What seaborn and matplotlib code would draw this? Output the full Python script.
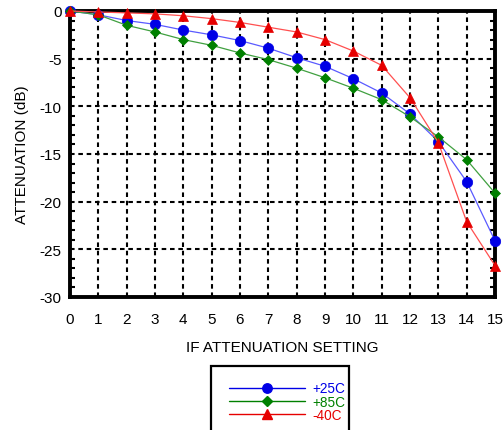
import matplotlib
matplotlib.use("Agg")
import matplotlib.pyplot as plt
import seaborn as sns
import pandas as pd
import numpy as np
from matplotlib.lines import Line2D
from matplotlib.patches import Rectangle
from matplotlib.ticker import MultipleLocator

sns.set_theme(style="white")
plt.rcParams['font.family'] = ['Liberation Sans', 'DejaVu Sans']
plt.rcParams['axes.unicode_minus'] = False

settings = list(range(16))
att_25c = [0, -0.4, -1.0, -1.4, -2.0, -2.5, -3.1, -3.9, -4.9, -5.8, -7.1, -8.6, -10.8, -13.7, -17.9, -24.1]
att_85c = [0, -0.4, -1.5, -2.2, -3.0, -3.6, -4.4, -5.1, -6.0, -7.0, -8.1, -9.3, -11.1, -13.2, -15.6, -19.1]
att_m40c = [0, -0.1, -0.2, -0.3, -0.5, -0.8, -1.2, -1.7, -2.2, -3.0, -4.2, -5.7, -9.1, -13.8, -22.1, -26.7]
labels = ["+25C", "+85C", "-40C"]
x_ticks = list(range(16))
y_ticks = [0, -5, -10, -15, -20, -25, -30]

series = [
    (labels[0], att_25c, "#5a5aff", "#0000e6", "o", 7.5),
    (labels[1], att_85c, "#40a040", "#008000", "D", 5.5),
    (labels[2], att_m40c, "#ff5050", "#e60000", "^", 7.5),
]

fig = plt.figure(figsize=(5.03, 4.31), dpi=100)
ax = fig.add_axes([70/503, 1-298/431, 425/503, 286/431])

for name, vals, lc, mc, mk, ms in series:
    df = pd.DataFrame({"x": settings, "y": vals})
    sns.lineplot(data=df, x="x", y="y", ax=ax, color=lc, linewidth=0.9,
                 marker=mk, markersize=ms, markerfacecolor=mc, markeredgecolor=mc,
                 markeredgewidth=0.5, clip_on=False, zorder=5, legend=False)

ax.set_xlim(0, 15)
ax.set_ylim(-30, 0)
ax.set_xticks(x_ticks)
ax.set_xticklabels([str(t) for t in x_ticks])
ax.set_yticks(y_ticks)
ax.set_yticklabels([str(t) for t in y_ticks])
ax.yaxis.set_minor_locator(MultipleLocator(1))
ax.grid(True, which="major", color="black", linestyle=(0, (2.2, 1.8)), linewidth=1.5)
ax.tick_params(axis="x", which="major", length=0, pad=11, labelsize=11, colors="black")
ax.tick_params(axis="y", which="major", length=0, pad=6, labelsize=11, colors="black")
ax.tick_params(axis="y", which="minor", direction="in", length=3.5, width=1.5,
               left=True, right=True, color="black")
for sp in ax.spines.values():
    sp.set_visible(True)
    sp.set_color("black")
    sp.set_linewidth(2.8)
ax.set_xlabel("IF ATTENUATION SETTING", fontsize=11, color="black", va="center")
ax.set_ylabel("ATTENUATION (dB)", fontsize=11, color="black", va="center")
ax.xaxis.set_label_coords(0.5, (298-348.5)/286)
ax.yaxis.set_label_coords((22-70)/425, 0.5)

# legend box
fig.patches.append(Rectangle((211/503, -0.05), 138/503, 0.05 + (431-367)/431,
                             transform=fig.transFigure, fill=False, edgecolor="black",
                             linewidth=1.6))
leg_ms = {"o": 6.8, "D": 5.0, "^": 6.8}
handles = [Line2D([], [], color=mc, linewidth=1.0, marker=mk, markersize=leg_ms[mk],
                  markerfacecolor=mc, markeredgecolor=mc)
           for name, vals, lc, mc, mk, ms in series]
leg = fig.legend(handles, labels, loc="upper left", bbox_to_anchor=(229/503, 1-382.5/431),
                 frameon=False, fontsize=9.8, handlelength=5.6, handletextpad=0.55,
                 labelspacing=-0.07, borderpad=0, borderaxespad=0, labelcolor="linecolor")

fig.savefig("out.png", dpi=100)
